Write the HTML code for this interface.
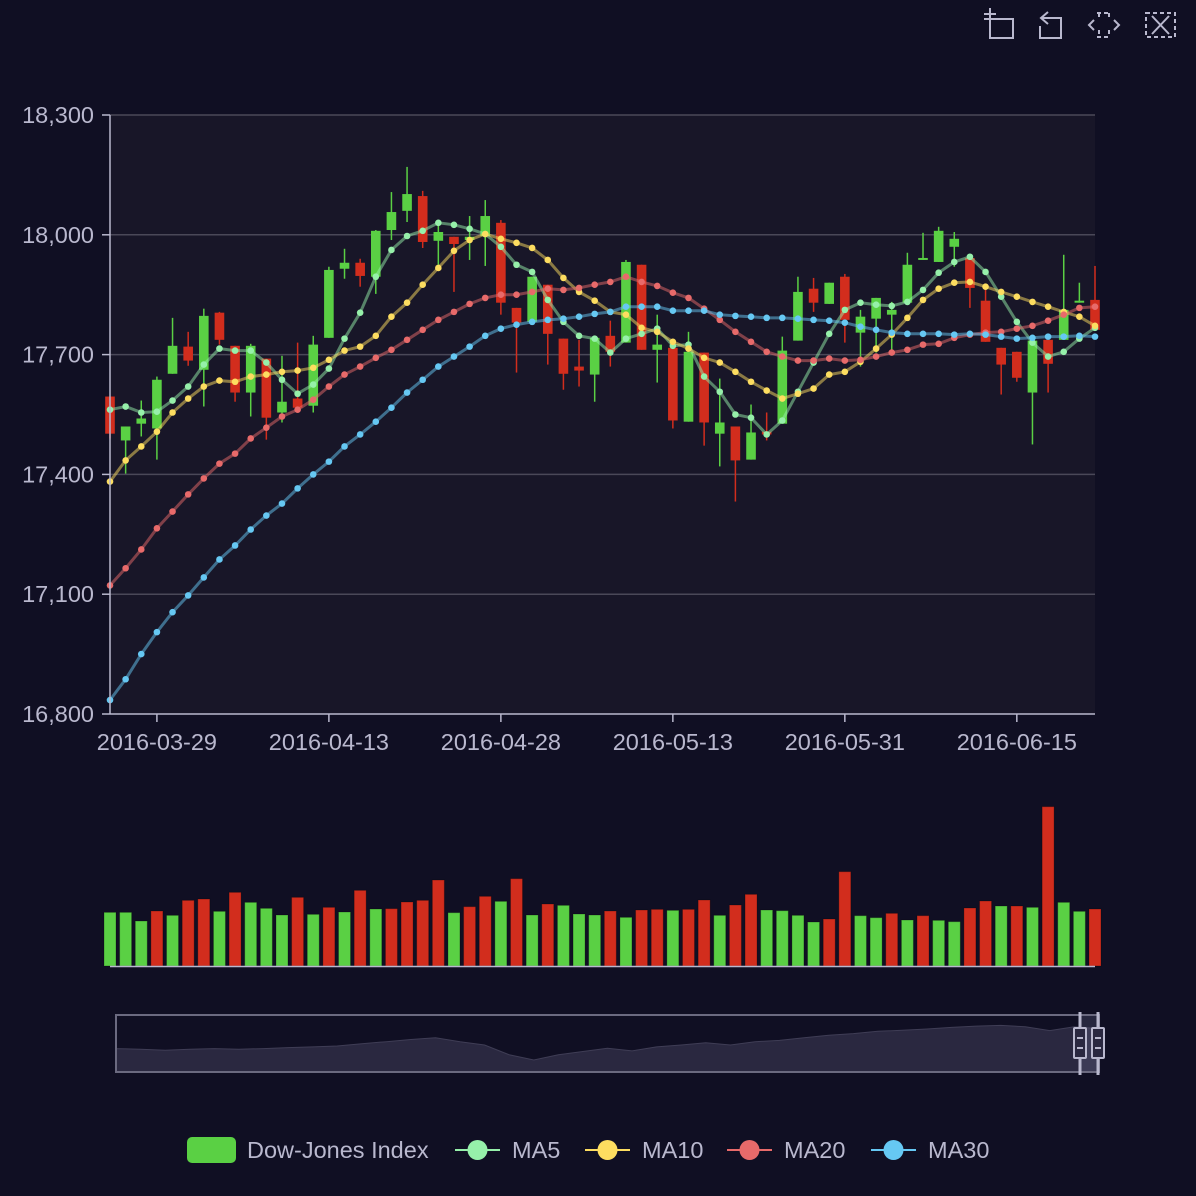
<!DOCTYPE html>
<html><head><meta charset="utf-8"><style>
html,body{margin:0;padding:0;background:#100c2a;}
#wrap{width:1196px;height:1196px;position:relative;background:#100f23;overflow:hidden;font-family:"Liberation Sans",sans-serif;}
svg text{font-family:"Liberation Sans",sans-serif;}
</style></head><body>
<div id="wrap">
<svg id="chart" width="1196" height="1196" viewBox="0 0 1196 1196">
  <rect x="110" y="115" width="985" height="599" fill="#181628"/>
  <g id="grid"></g>
  <g id="candles"></g>
  <g id="mas"></g>
  <g id="axes"></g>
  <g id="vol"></g>
  <g id="dz"></g>
  <g id="toolbox" stroke="#b9b8ce" stroke-width="2" fill="none">
    <g>
      <path d="M990 12 V38 H1013 V19 H984"/><path d="M984 14 H996" /><path d="M990 8 V18"/>
    </g>
    <g>
      <path d="M1048 12 L1041 18 L1048 24"/><path d="M1041 18 H1061 V38 H1040 V26"/>
    </g>
    <g stroke-dasharray="4 3">
      <path d="M1097 13 H1111 M1097 37 H1111 M1099 13 V20 M1109 13 V20 M1099 30 V37 M1109 30 V37"/>
    </g>
    <g>
      <path d="M1094 20 L1089 25 L1094 30 M1114 20 L1119 25 L1114 30"/>
    </g>
    <g>
      <rect x="1146" y="13" width="29" height="24" stroke-dasharray="4 3"/>
      <path d="M1152 16 L1169 34 M1169 16 L1152 34"/>
    </g>
  </g>
  <g id="legend"></g>
</svg>
</div>
<script>
const dates = ["2016-03-23","2016-03-24","2016-03-28","2016-03-29","2016-03-30","2016-03-31","2016-04-01","2016-04-04","2016-04-05","2016-04-06","2016-04-07","2016-04-08","2016-04-11","2016-04-12","2016-04-13","2016-04-14","2016-04-15","2016-04-18","2016-04-19","2016-04-20","2016-04-21","2016-04-22","2016-04-25","2016-04-26","2016-04-27","2016-04-28","2016-04-29","2016-05-02","2016-05-03","2016-05-04","2016-05-05","2016-05-06","2016-05-09","2016-05-10","2016-05-11","2016-05-12","2016-05-13","2016-05-16","2016-05-17","2016-05-18","2016-05-19","2016-05-20","2016-05-23","2016-05-24","2016-05-25","2016-05-26","2016-05-27","2016-05-31","2016-06-01","2016-06-02","2016-06-03","2016-06-06","2016-06-07","2016-06-08","2016-06-09","2016-06-10","2016-06-13","2016-06-14","2016-06-15","2016-06-16","2016-06-17","2016-06-20","2016-06-21","2016-06-22"];
const opens = [17595,17485,17527,17515,17652,17720,17662,17805,17722,17605,17690,17555,17590,17572,17742,17915,17930,17895,18012,18060,18097,17985,17995,17987,17997,18030,17817,17782,17875,17740,17670,17650,17747,17730,17925,17712,17717,17532,17705,17502,17520,17437,17507,17527,17735,17865,17827,17895,17755,17790,17800,17830,17937,17932,17970,17942,17835,17717,17707,17605,17737,17737,17830,17837];
const closes = [17502,17520,17540,17637,17722,17685,17797,17737,17605,17722,17542,17582,17567,17725,17912,17930,17897,18010,18057,18102,17982,18007,17977,17995,18047,17830,17780,17895,17752,17652,17660,17742,17707,17932,17712,17725,17535,17707,17530,17530,17435,17505,17500,17710,17857,17830,17880,17787,17795,17842,17812,17925,17942,18010,17990,17867,17732,17675,17642,17735,17677,17812,17835,17762];
const highs = [17595,17520,17585,17645,17792,17757,17815,17807,17722,17727,17690,17697,17730,17747,17920,17965,17940,18012,18107,18170,18110,18032,17995,18047,18087,18037,17817,17895,17875,17740,17737,17742,17785,17937,17925,17800,17717,17757,17705,17640,17520,17575,17555,17745,17895,17892,17880,17902,17812,17842,17832,17955,18005,18020,18007,17942,17862,17717,17707,17735,17737,17950,17880,17922];
const lows = [17490,17402,17495,17437,17652,17672,17570,17725,17582,17545,17487,17530,17567,17555,17742,17890,17870,17852,17987,18032,17967,17925,17857,17937,17922,17800,17655,17782,17675,17612,17620,17582,17670,17730,17712,17630,17515,17532,17472,17420,17332,17437,17485,17527,17735,17807,17827,17730,17670,17705,17712,17830,17937,17932,17920,17817,17732,17600,17632,17475,17605,17737,17830,17762];
const ma5 = [17562,17570,17555,17557,17585,17620,17675,17715,17710,17710,17680,17637,17602,17625,17665,17740,17805,17895,17962,17997,18010,18030,18025,18015,18002,17970,17925,17907,17837,17782,17747,17740,17705,17740,17752,17765,17722,17725,17645,17607,17550,17542,17500,17535,17607,17680,17752,17812,17830,17825,17822,17832,17862,17905,17932,17945,17907,17845,17782,17730,17695,17707,17740,17767];
const ma10 = [17382,17435,17470,17507,17555,17590,17620,17635,17632,17645,17650,17657,17660,17667,17687,17710,17720,17747,17795,17830,17875,17917,17960,17987,18002,17990,17980,17967,17937,17892,17857,17835,17807,17800,17767,17757,17732,17715,17692,17680,17657,17632,17610,17590,17602,17615,17650,17657,17682,17715,17750,17792,17837,17865,17880,17882,17870,17857,17845,17832,17820,17807,17795,17772];
const ma20 = [17122,17165,17212,17265,17307,17350,17390,17427,17452,17490,17517,17545,17562,17587,17620,17650,17670,17692,17712,17737,17762,17787,17807,17827,17842,17850,17850,17857,17865,17862,17867,17875,17882,17895,17882,17872,17855,17842,17815,17787,17757,17732,17707,17695,17685,17685,17690,17685,17687,17695,17705,17712,17725,17727,17742,17750,17755,17757,17765,17772,17785,17800,17817,17820];
const ma30 = [16835,16887,16950,17005,17055,17097,17142,17187,17222,17262,17297,17327,17365,17400,17432,17470,17500,17532,17567,17605,17637,17670,17695,17720,17747,17765,17775,17782,17787,17790,17795,17802,17807,17820,17820,17820,17810,17810,17810,17800,17797,17795,17792,17792,17790,17787,17785,17780,17770,17762,17755,17752,17752,17752,17750,17752,17750,17745,17740,17742,17745,17745,17747,17745];
const volumes = [80.5,80.5,67.5,82.5,76,98.5,100.5,82,110.5,95.5,86.5,76.5,103,77.5,88,81,113.5,85.5,86,96,98.5,129,80,89,104.5,97,131,76.5,93,91,78,76.5,82.5,73,84,85,83.5,85,99,76,91.5,107.5,84,83,76,66,70.5,141.5,75.5,72.5,79,69,75.5,68.5,66.5,87,97.5,90,90,88,239,95.5,82,85.5];
const volSigns = [-1,-1,-1,1,-1,1,1,-1,1,-1,-1,-1,1,-1,1,-1,1,-1,1,1,1,1,-1,1,1,-1,1,-1,1,-1,-1,-1,1,-1,1,1,-1,1,1,-1,1,1,-1,-1,-1,-1,1,1,-1,-1,1,-1,1,-1,-1,1,1,-1,1,-1,1,-1,-1,1];
const yTicks = [16800,17100,17400,17700,18000,18300];
const yTickLabels = ["16,800","17,100","17,400","17,700","18,000","18,300"];
const xTickIdx = [3,14,25,36,47,58];
const overview = [17148,17124,17088,17124,17148,17124,17148,17184,17208,17244,17328,17400,17484,17544,17400,17280,16920,16728,16920,17040,17160,17064,17208,17280,17364,17280,17400,17448,17544,17640,17700,17784,17820,17868,17928,17976,18000,17952,17808,17952,17880];

const NS="http://www.w3.org/2000/svg";
function mk(tag, attrs, parent){const e=document.createElementNS(NS,tag);for(const k in attrs)e.setAttribute(k,attrs[k]);parent.appendChild(e);return e;}
const X0=110,X1=1095,Y0=714,Y1=115,VMIN=16800,VMAX=18300;
const n=dates.length;
function xOf(i){return X0+i*(X1-X0)/(n-1);}
function yOf(v){return Y0-(v-VMIN)/(VMAX-VMIN)*(Y0-Y1);}
const VB=966,VT=800,VOLMAX=249;
function yVol(v){return VB-v/VOLMAX*(VB-VT);}
const UP="#5ad044",DOWN="#d22d1d";
const FS=23.5;

const grid=document.getElementById('grid');
yTicks.forEach((t,k)=>{
  if(k===0)return;
  const l=mk('line',{x1:X0,x2:X1,y1:yOf(t),y2:yOf(t),stroke:'#4a4858','stroke-width':1.5},grid);
  
  
});
const axes=document.getElementById('axes');
yTicks.forEach((t,k)=>{
  const tk=mk('line',{x1:102,x2:X0,y1:yOf(t),y2:yOf(t),stroke:'#b9b8ce','stroke-width':1.5},axes);
  
  
  const tx=mk('text',{x:94,y:yOf(t)+8,'text-anchor':'end','font-size':FS,fill:'#b9b8ce'},axes);
  tx.textContent=yTickLabels[k];
  
  
});
const ya=mk('line',{x1:X0,x2:X0,y1:Y1,y2:Y0,stroke:'#b9b8ce','stroke-width':1.5},axes);


const xa=mk('line',{x1:X0,x2:X1,y1:Y0,y2:Y0,stroke:'#b9b8ce','stroke-width':1.5},axes);


xTickIdx.forEach(i=>{
  const tk=mk('line',{x1:xOf(i),x2:xOf(i),y1:Y0,y2:Y0+8,stroke:'#b9b8ce','stroke-width':1.5},axes);
  
  
  const tx=mk('text',{x:xOf(i),y:750,'text-anchor':'middle','font-size':FS,fill:'#b9b8ce'},axes);
  tx.textContent=dates[i];
  
  
});

const cg=document.getElementById('candles');
for(let i=0;i<n;i++){
  const up=closes[i]>=opens[i];const col=up?UP:DOWN;const x=xOf(i);
  const w=mk('line',{x1:x,x2:x,y1:yOf(highs[i]),y2:yOf(lows[i]),stroke:col,'stroke-width':1.5},cg);
  
  
  const top=yOf(Math.max(opens[i],closes[i])),bot=yOf(Math.min(opens[i],closes[i]));
  const b=mk('rect',{x:x-4.8,y:top,width:9.6,height:Math.max(1.5,bot-top),fill:col},cg);
  
  
}
const mg=document.getElementById('mas');
const maSeries=[[ma5,'#96f0aa','ma5'],[ma10,'#fddd60','ma10'],[ma20,'#e86a6a','ma20'],[ma30,'#66c8f3','ma30']];
maSeries.forEach(([arr,col,nm])=>{
  const pts=arr.map((v,i)=>xOf(i).toFixed(1)+','+yOf(v).toFixed(1)).join(' ');
  const pl=mk('polyline',{points:pts,fill:'none',stroke:col,'stroke-width':3,'stroke-opacity':0.5},mg);
  
  
});
maSeries.forEach(([arr,col,nm])=>{
  arr.forEach((v,i)=>{
    const c=mk('circle',{cx:xOf(i),cy:yOf(v),r:3.3,fill:col},mg);
    
    
  });
});

const vg=document.getElementById('vol');
volumes.forEach((v,i)=>{
  const col=volSigns[i]>0?DOWN:UP;const y=yVol(v);
  const r=mk('rect',{x:xOf(i)-6,y:y,width:12,height:VB-y,fill:col,stroke:'rgba(0,0,0,0.25)','stroke-width':1},vg);
  
  
});
const vx=mk('line',{x1:X0,x2:X1,y1:VB+0.5,y2:VB+0.5,stroke:'#b9b8ce','stroke-width':1.5},vg);



const dz=document.getElementById('dz');
const DL=116,DR=1099,DT=1015,DB=1072;
function ovX(k){return DL+k*(DR-DL)/(overview.length-1);}
function ovY(v){return DT+((18000-v)/12+32)*0.326;}
let d='M'+DL+','+DB;
overview.forEach((v,k)=>{d+=' L'+ovX(k).toFixed(1)+','+ovY(v).toFixed(1);});
d+=' L'+DR+','+DB+' Z';
const ar=mk('path',{d:d,fill:'#2a2840',stroke:'#3f3d55','stroke-width':1},dz);


const sel=mk('rect',{x:1080,y:DT,width:18,height:DB-DT,fill:'rgba(135,135,175,0.2)'},dz);


const box=mk('rect',{x:DL,y:DT,width:DR-DL,height:DB-DT,fill:'none',stroke:'#6b6a80','stroke-width':2},dz);


[1080,1098].forEach(hx=>{
  const hg=mk('g',{},dz);
  
  
  mk('line',{x1:hx,x2:hx,y1:1012,y2:1075,stroke:'#b9b8ce','stroke-width':3},hg);
  mk('rect',{x:hx-6,y:1028,width:12,height:30,rx:1,fill:'#2a2840',stroke:'#b9b8ce','stroke-width':2},hg);
  mk('line',{x1:hx-3,x2:hx+3,y1:1038,y2:1038,stroke:'#b9b8ce','stroke-width':2},hg);
  mk('line',{x1:hx-3,x2:hx+3,y1:1048,y2:1048,stroke:'#b9b8ce','stroke-width':2},hg);
});

const lg=document.getElementById('legend');
const li0=mk('g',{},lg);


mk('rect',{x:187,y:1137,width:49,height:26,rx:5,fill:UP},li0);
const t0=mk('text',{x:247,y:1158,'font-size':FS,fill:'#b9b8ce'},li0);t0.textContent='Dow-Jones Index';
const legItems=[['MA5','#96f0aa',455],['MA10','#fddd60',585],['MA20','#e86a6a',727],['MA30','#66c8f3',871]];
legItems.forEach(([label,col,lx])=>{
  const g=mk('g',{},lg);
  
  
  mk('line',{x1:lx,x2:lx+45,y1:1150,y2:1150,stroke:col,'stroke-width':2},g);
  mk('circle',{cx:lx+22.5,cy:1150,r:10,fill:col},g);
  const t=mk('text',{x:lx+57,y:1158,'font-size':FS,fill:'#b9b8ce'},g);t.textContent=label;
});
</script>
</body></html>
